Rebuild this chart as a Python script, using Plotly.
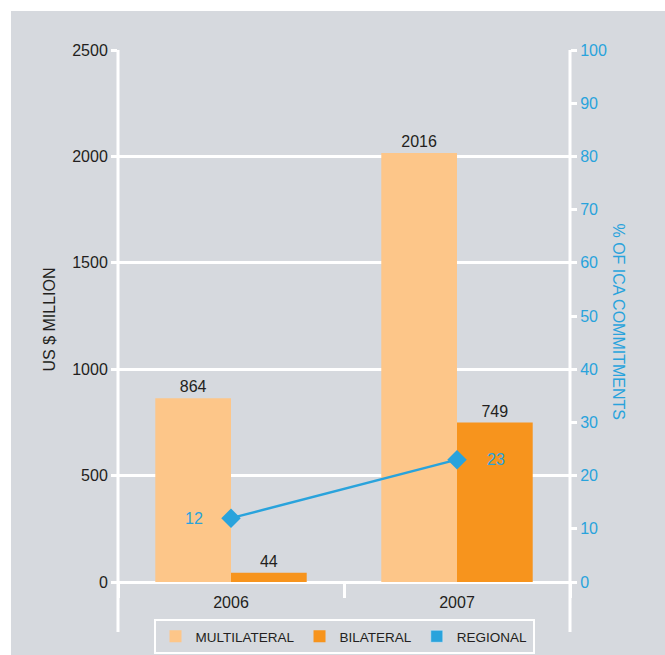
import plotly.graph_objects as go

# Commitments by channel (US$ million) and regional share (% of ICA commitments)
years = ["2006", "2007"]
multilateral = [864, 2016]
bilateral = [44, 749]
regional_pct = [12, 23]

left_ticks = [0, 500, 1000, 1500, 2000, 2500]
right_ticks = list(range(0, 101, 10))

BG = "#d6d9de"
DARK = "#231f20"
BLUE = "#29a3dc"
LIGHT_ORANGE = "#fdc689"
ORANGE = "#f7941d"
FONT = "Liberation Sans, Arial, sans-serif"

W, H = 665, 655
L, R, T, B = 118, 95, 50, 73
PW, PH = W - L - R, H - T - B


def fx(px):
    return (px - L) / PW


def fy(py):
    return (H - B - py) / PH


fig = go.Figure()

fig.add_trace(go.Bar(
    name="MULTILATERAL", x=years, y=multilateral, offsetgroup="m",
    marker=dict(color=LIGHT_ORANGE, line=dict(width=0)),
    text=[str(v) for v in multilateral], textposition="outside",
    textfont=dict(color=DARK, size=16, family=FONT), cliponaxis=False,
))
fig.add_trace(go.Bar(
    name="BILATERAL", x=years, y=bilateral, offsetgroup="b",
    marker=dict(color=ORANGE, line=dict(width=0)),
    text=[str(v) for v in bilateral], textposition="outside",
    textfont=dict(color=DARK, size=16, family=FONT), cliponaxis=False,
))
# legend swatch for the regional series
fig.add_trace(go.Bar(
    name="REGIONAL", x=[years[0]], y=[None], offsetgroup="b",
    marker=dict(color=BLUE), hoverinfo="skip",
))
fig.add_trace(go.Scatter(
    name="REGIONAL", x=years, y=regional_pct, yaxis="y2",
    mode="lines+markers", showlegend=False,
    line=dict(color=BLUE, width=2.5),
    marker=dict(symbol="diamond", size=15, color=BLUE),
    cliponaxis=False,
))

# value labels beside the regional markers
label_shift = [-37, 39]
annotations = [
    dict(text=str(v), x=i, y=v, xref="x", yref="y2", xshift=s,
         showarrow=False, font=dict(family=FONT, size=16, color=BLUE))
    for i, (v, s) in enumerate(zip(regional_pct, label_shift))
]
annotations += [
    dict(text="US $ MILLION", xref="paper", yref="paper", x=fx(38),
         y=fy(320), textangle=-90, showarrow=False,
         font=dict(family=FONT, size=16, color=DARK)),
    dict(text="% OF ICA COMMITMENTS", xref="paper", yref="paper",
         x=fx(629), y=fy(321), textangle=90, showarrow=False,
         font=dict(family=FONT, size=16, color=BLUE)),
]

fig.update_layout(
    width=W, height=H,
    margin=dict(l=L, r=R, t=T, b=B, autoexpand=False),
    paper_bgcolor=BG, plot_bgcolor=BG,
    font=dict(family=FONT, color=DARK, size=16),
    barmode="group", bargap=0.33, bargroupgap=0,
    xaxis=dict(
        type="category", range=[-0.5, 1.5], showgrid=False, zeroline=False,
        showline=False, ticks="outside", tickson="boundaries", ticklen=15,
        tickwidth=2.5, tickcolor="white", tickfont=dict(size=16, color=DARK),
        ticklabelstandoff=9,
    ),
    yaxis=dict(
        range=[0, 2500], tickvals=left_ticks, showgrid=True, gridcolor="white",
        gridwidth=2.5, zeroline=True, zerolinecolor="white", zerolinewidth=2.5,
        ticks="outside", ticklen=6, tickwidth=2.5, tickcolor="white",
        showline=False, tickfont=dict(size=16, color=DARK),
    ),
    yaxis2=dict(
        overlaying="y", side="right", range=[0, 100], tickvals=right_ticks,
        showgrid=False, zeroline=False, showline=False, ticks="outside",
        ticklen=6, tickwidth=2.5, tickcolor="white",
        tickfont=dict(size=16, color=BLUE),
    ),
    legend=dict(
        orientation="h", x=0.5, xanchor="center", y=fy(619), yanchor="top",
        bgcolor=BG, bordercolor="white", borderwidth=2,
        font=dict(family=FONT, size=13.5, color=DARK), itemwidth=30,
        traceorder="normal",
    ),
    showlegend=True,
    shapes=[
        dict(type="line", xref="paper", yref="paper", x0=0, x1=0,
             y0=fy(632), y1=1, line=dict(color="white", width=3)),
        dict(type="line", xref="paper", yref="paper", x0=1, x1=1,
             y0=fy(632), y1=1, line=dict(color="white", width=3)),
        dict(type="rect", xref="paper", yref="paper", x0=fx(0), x1=fx(11),
             y0=fy(H), y1=fy(0), fillcolor="white", line=dict(width=0)),
        dict(type="rect", xref="paper", yref="paper", x0=fx(0), x1=fx(W),
             y0=fy(11), y1=fy(0), fillcolor="white", line=dict(width=0)),
    ],
    annotations=annotations,
)

fig.write_html("out.html")
